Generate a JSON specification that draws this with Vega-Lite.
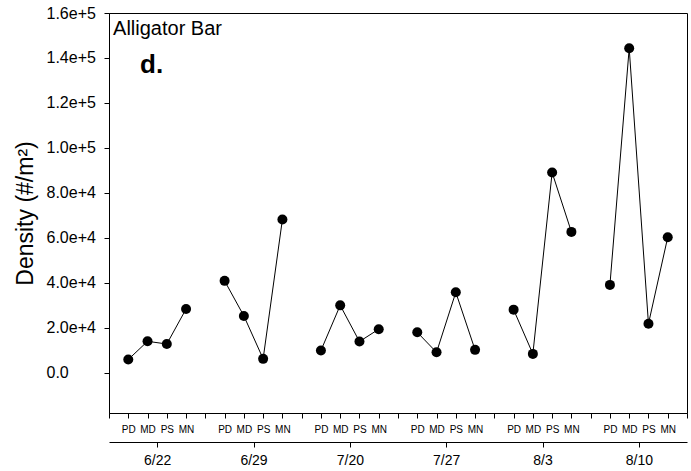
{
  "$schema": "https://vega.github.io/schema/vega-lite/v6.json",
  "width": 578,
  "height": 400,
  "autosize": {"type": "none"},
  "padding": {"left": 109, "top": 13, "right": 4, "bottom": 58},
  "config": {
    "font": "Liberation Sans",
    "view": {"stroke": "#000000", "strokeWidth": 1},
    "axis": {"grid": false, "domainColor": "#000000", "tickColor": "#000000", "labelColor": "#000000", "titleColor": "#000000", "labelFont": "Liberation Sans", "titleFont": "Liberation Sans"}
  },
  "datasets": {
    "pts": [
      {"date": "6/22", "site": "PD", "pos": 1, "density": 5800},
      {"date": "6/22", "site": "MD", "pos": 2, "density": 13900},
      {"date": "6/22", "site": "PS", "pos": 3, "density": 12700},
      {"date": "6/22", "site": "MN", "pos": 4, "density": 28300},
      {"date": "6/29", "site": "PD", "pos": 6, "density": 40800},
      {"date": "6/29", "site": "MD", "pos": 7, "density": 25200},
      {"date": "6/29", "site": "PS", "pos": 8, "density": 6100},
      {"date": "6/29", "site": "MN", "pos": 9, "density": 68100},
      {"date": "7/20", "site": "PD", "pos": 11, "density": 9800},
      {"date": "7/20", "site": "MD", "pos": 12, "density": 29900},
      {"date": "7/20", "site": "PS", "pos": 13, "density": 13800},
      {"date": "7/20", "site": "MN", "pos": 14, "density": 19300},
      {"date": "7/27", "site": "PD", "pos": 16, "density": 17900},
      {"date": "7/27", "site": "MD", "pos": 17, "density": 9000},
      {"date": "7/27", "site": "PS", "pos": 18, "density": 35700},
      {"date": "7/27", "site": "MN", "pos": 19, "density": 10100},
      {"date": "8/3", "site": "PD", "pos": 21, "density": 28000},
      {"date": "8/3", "site": "MD", "pos": 22, "density": 8300},
      {"date": "8/3", "site": "PS", "pos": 23, "density": 89000},
      {"date": "8/3", "site": "MN", "pos": 24, "density": 62600},
      {"date": "8/10", "site": "PD", "pos": 26, "density": 39000},
      {"date": "8/10", "site": "MD", "pos": 27, "density": 144300},
      {"date": "8/10", "site": "PS", "pos": 28, "density": 21700},
      {"date": "8/10", "site": "MN", "pos": 29, "density": 60200}
    ],
    "notes": [
      {"pos": 0.21, "density": 150000, "label": "Alligator Bar", "kind": "title"},
      {"pos": 1.61, "density": 133300, "label": "d.", "kind": "panel"}
    ]
  },
  "resolve": {"axis": {"x": "independent"}},
  "encoding": {
    "y": {
      "field": "density", "type": "quantitative",
      "scale": {"domain": [-18000, 160000], "nice": false, "zero": false},
      "axis": {
        "orient": "left",
        "title": "Density (#/m²)",
        "titleFontSize": 23,
        "titleFontWeight": "normal",
        "titleX": -72,
        "values": [0, 20000, 40000, 60000, 80000, 100000, 120000, 140000, 160000],
        "labelExpr": "datum.value == 0 ? '0.0' : format(datum.value, '.1e')",
        "labelFontSize": 16,
        "labelAlign": "left",
        "labelPadding": 58,
        "labelFlush": false,
        "labelOverlap": false,
        "tickSize": 5
      }
    }
  },
  "layer": [
    {
      "data": {"name": "pts"},
      "mark": {"type": "line", "color": "#000000", "strokeWidth": 1},
      "encoding": {
        "x": {
          "field": "pos", "type": "quantitative",
          "scale": {"domain": [0, 30], "nice": false, "zero": false},
          "axis": {
            "orient": "bottom",
            "title": null,
            "values": [0,1,2,3,4,5,6,7,8,9,10,11,12,13,14,15,16,17,18,19,20,21,22,23,24,25,26,27,28,29,30],
            "labelExpr": "datum.value % 5 == 1 ? 'PD' : datum.value % 5 == 2 ? 'MD' : datum.value % 5 == 3 ? 'PS' : datum.value % 5 == 4 ? 'MN' : ''",
            "labelFontSize": 10,
            "labelPadding": 6,
            "tickSize": 5,
            "labelOverlap": false,
            "labelFlush": false
          }
        },
        "detail": {"field": "date"}
      }
    },
    {
      "data": {"name": "pts"},
      "mark": {"type": "point", "filled": true, "color": "#000000", "opacity": 1, "size": 100},
      "encoding": {
        "x": {
          "field": "pos", "type": "quantitative",
          "axis": {
            "orient": "bottom",
            "title": null,
            "offset": 29,
            "values": [2.5, 7.5, 12.5, 17.5, 22.5, 27.5],
            "labelExpr": "['6/22','6/29','7/20','7/27','8/3','8/10'][floor(datum.value / 5)]",
            "labelFontSize": 14,
            "labelPadding": 6,
            "tickSize": 5,
            "labelFlush": false
          }
        }
      }
    },
    {
      "data": {"name": "notes"},
      "transform": [{"filter": "datum.kind == 'title'"}],
      "mark": {"type": "text", "align": "left", "baseline": "alphabetic", "fontSize": 20, "color": "#000000"},
      "encoding": {
        "x": {"field": "pos", "type": "quantitative", "axis": null},
        "text": {"field": "label"}
      }
    },
    {
      "data": {"name": "notes"},
      "transform": [{"filter": "datum.kind == 'panel'"}],
      "mark": {"type": "text", "align": "left", "baseline": "alphabetic", "fontSize": 26, "fontWeight": "bold", "color": "#000000"},
      "encoding": {
        "x": {"field": "pos", "type": "quantitative", "axis": null},
        "text": {"field": "label"}
      }
    }
  ]
}
